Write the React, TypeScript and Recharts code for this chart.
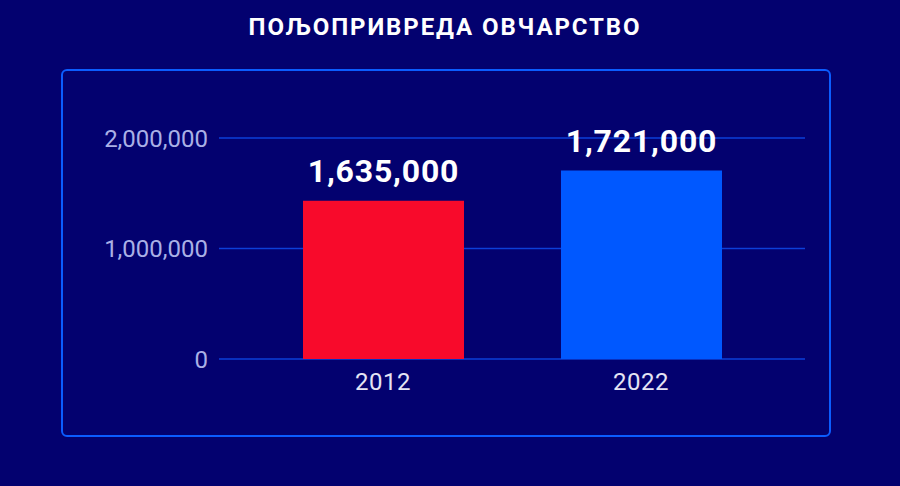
import { Bar, BarChart, CartesianGrid, Cell, LabelList, XAxis, YAxis } from "recharts";

const years = ["2012", "2022"];
// bar heights as drawn in the picture (measured against the axis)
const barValues = [1433000, 1705000];
// figures printed above the bars
const printedValues = [1635000, 1721000];
const barColors = ["#f80a2b", "#0058ff"];
const yTicks = [0, 1000000, 2000000];

const data = years.map((year, i) => ({ year, value: barValues[i], printed: printedValues[i] }));

const fmt = (v: number) => v.toLocaleString("en-US");

export default function App() {
  return (
    <div
      style={{
        position: "fixed",
        left: 0,
        top: 0,
        width: 900,
        height: 486,
        background: "#03016f",
        fontFamily: "Roboto, sans-serif",
        overflow: "hidden",
      }}
    >
      <div
        style={{
          position: "absolute",
          left: 0,
          top: 13,
          width: 890,
          textAlign: "center",
          color: "#ffffff",
          fontWeight: 700,
          fontSize: 24,
          letterSpacing: 1.9,
        }}
      >
        ПОЉОПРИВРЕДА ОВЧАРСТВО
      </div>
      <div
        style={{
          position: "absolute",
          left: 61,
          top: 69,
          width: 766,
          height: 364,
          border: "2px solid #0b5cff",
          borderRadius: 6,
        }}
      />
      <div style={{ position: "absolute", left: 0, top: 0 }}>
        <BarChart width={900} height={486} data={data} margin={{ top: 138, right: 95, bottom: 97, left: 0 }}>
          <CartesianGrid horizontal vertical={false} stroke="#0d3fd8" strokeWidth={1.5} />
          <XAxis
            dataKey="year"
            axisLine={false}
            tickLine={false}
            padding={{ left: 35, right: 35 }}
            height={30}
            tickMargin={8}
            tick={{ fill: "#e4e4f4", fontSize: 24, letterSpacing: 0.5 }}
          />
          <YAxis
            width={219}
            domain={[0, 2000000]}
            ticks={yTicks}
            tickFormatter={fmt}
            axisLine={false}
            tickLine={false}
            tickSize={0}
            tickMargin={11}
            tick={{ fill: "#aab0e6", fontSize: 24 }}
          />
          <Bar dataKey="value" barSize={161} isAnimationActive={false}>
            {data.map((d, i) => (
              <Cell key={d.year} fill={barColors[i]} />
            ))}
            <LabelList
              dataKey="printed"
              content={(props: any) => {
                const { x, y, width, value } = props;
                return (
                  <text
                    x={x + width / 2}
                    y={y - 19}
                    textAnchor="middle"
                    fill="#ffffff"
                    fontSize={32}
                    fontWeight={700}
                    letterSpacing={0.8}
                    fontFamily="Roboto, sans-serif"
                  >
                    {fmt(value)}
                  </text>
                );
              }}
            />
          </Bar>
        </BarChart>
      </div>
    </div>
  );
}
